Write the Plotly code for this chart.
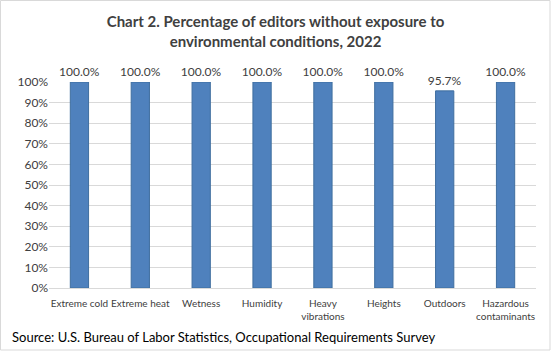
import plotly.graph_objects as go

categories = ["Extreme cold", "Extreme heat", "Wetness", "Humidity", "Heavy<br>vibrations",
              "Heights", "Outdoors", "Hazardous<br>contaminants"]
values = [100.0, 100.0, 100.0, 100.0, 100.0, 100.0, 95.7, 100.0]
labels = [f"{v:.1f}%" for v in values]
ytick_vals = list(range(0, 101, 10))
ytick_text = [f"{v}%" for v in ytick_vals]

W, H = 551, 351
L, R, T, B = 49, 15, 82, 63
pw, ph = W - L - R, H - T - B

fig = go.Figure(go.Bar(
    x=categories, y=values, text=labels, textposition="outside",
    constraintext="none",
    textfont=dict(size=12, color="#404040", family="Lato"),
    marker=dict(color="#4F81BD", line=dict(color="#3F6E9F", width=1)),
    width=0.3, cliponaxis=False,
))

fig.update_layout(
    width=W, height=H, margin=dict(l=L, r=R, t=T, b=B, autoexpand=False),
    paper_bgcolor="white", plot_bgcolor="white",
    font=dict(family="Lato", color="#595959", size=11),
    title=dict(text="<b>Chart 2. Percentage of editors without exposure to<br>environmental conditions, 2022</b>",
               x=0.5, xanchor="center", xref="container", yref="container",
               y=1 - 27 / H, yanchor="top",
               font=dict(size=15, color="#404040", family="Lato")),
    showlegend=False,
    xaxis=dict(showline=True, linecolor="#d9d9d9", ticks="", tickangle=0, ticklabelstandoff=6,
               tickfont=dict(size=10, color="#404040")),
    yaxis=dict(range=[0, 100], tickvals=ytick_vals, ticktext=ytick_text, showgrid=True,
               gridcolor="#d9d9d9", zeroline=False, ticks="", tickfont=dict(size=12, color="#404040")),
    shapes=[dict(type="rect", xref="paper", yref="paper",
                 x0=-(L - 0.5) / pw, x1=1 + (R - 1) / pw,
                 y0=-(B - 1) / ph, y1=1 + (T - 0.5) / ph,
                 line=dict(color="#d9d9d9", width=1), fillcolor="rgba(0,0,0,0)")],
    annotations=[dict(text="Source: U.S. Bureau of Labor Statistics, Occupational Requirements Survey",
                      xref="paper", yref="paper", x=-(L - 10) / pw, xanchor="left",
                      y=-(337 - T - ph) / ph, yanchor="middle", showarrow=False,
                      font=dict(size=13, color="black", family="Lato"))],
)

fig.write_html("out.html")
